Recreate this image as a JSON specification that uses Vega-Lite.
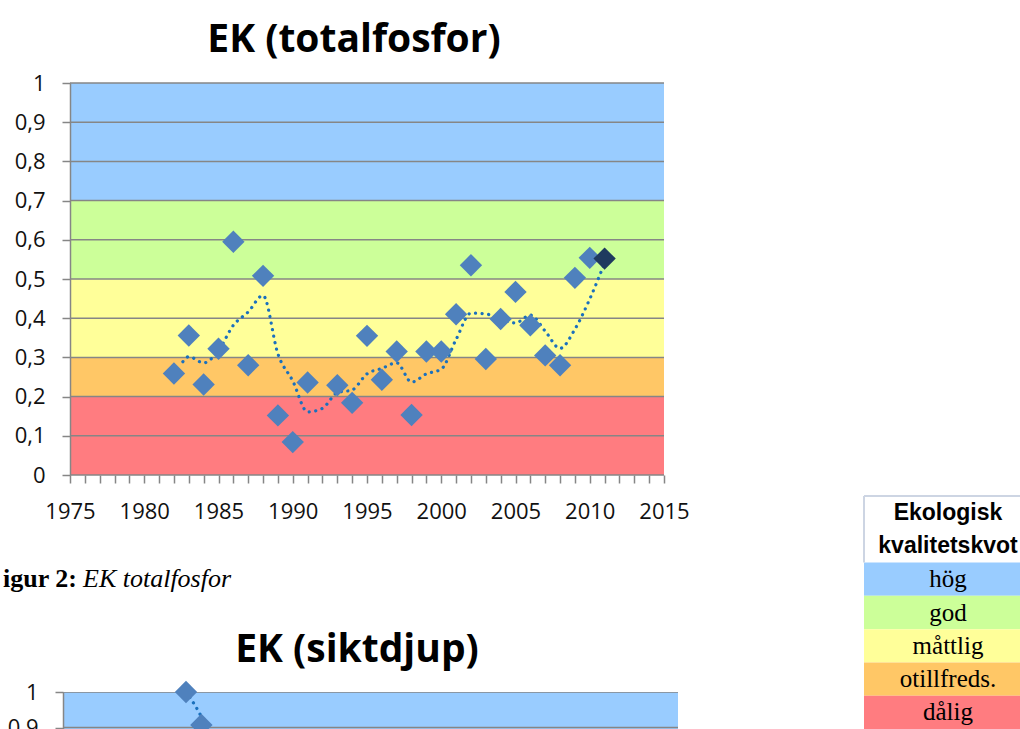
{
  "$schema": "https://vega.github.io/schema/vega-lite/v6.json",
  "background": "white",
  "padding": {"left": 0, "top": 21, "right": 0, "bottom": 0},
  "bounds": "flush",
  "spacing": 21,
  "datasets": {
    "bands": [
      {"lo": 0.7, "hi": 1.0, "klass": "hög"},
      {"lo": 0.5, "hi": 0.7, "klass": "god"},
      {"lo": 0.3, "hi": 0.5, "klass": "måttlig"},
      {"lo": 0.2, "hi": 0.3, "klass": "otillfreds."},
      {"lo": 0.0, "hi": 0.2, "klass": "dålig"}
    ],
    "grid": [{"v": 0}, {"v": 0.1}, {"v": 0.2}, {"v": 0.3}, {"v": 0.4}, {"v": 0.5}, {"v": 0.6}, {"v": 0.7}, {"v": 0.8}, {"v": 0.9}, {"v": 1}],
    "tp": [
      {"year": 1982, "ek": 0.259}, {"year": 1983, "ek": 0.356}, {"year": 1984, "ek": 0.231}, {"year": 1985, "ek": 0.322},
      {"year": 1986, "ek": 0.595}, {"year": 1987, "ek": 0.280}, {"year": 1988, "ek": 0.508}, {"year": 1989, "ek": 0.152},
      {"year": 1990, "ek": 0.084}, {"year": 1991, "ek": 0.236}, {"year": 1993, "ek": 0.229}, {"year": 1994, "ek": 0.184},
      {"year": 1995, "ek": 0.355}, {"year": 1996, "ek": 0.243}, {"year": 1997, "ek": 0.315}, {"year": 1998, "ek": 0.153},
      {"year": 1999, "ek": 0.315}, {"year": 2000, "ek": 0.315}, {"year": 2001, "ek": 0.410}, {"year": 2002, "ek": 0.535},
      {"year": 2003, "ek": 0.296}, {"year": 2004, "ek": 0.398}, {"year": 2005, "ek": 0.467}, {"year": 2006, "ek": 0.382},
      {"year": 2007, "ek": 0.305}, {"year": 2008, "ek": 0.280}, {"year": 2009, "ek": 0.503}, {"year": 2010, "ek": 0.554},
      {"year": 2011, "ek": 0.552}
    ],
    "tpTrend": [
      {"year": 1982.6, "ek": 0.289}, {"year": 1983, "ek": 0.302}, {"year": 1984, "ek": 0.286}, {"year": 1985, "ek": 0.318},
      {"year": 1986, "ek": 0.382}, {"year": 1987, "ek": 0.416}, {"year": 1988, "ek": 0.458}, {"year": 1989, "ek": 0.309},
      {"year": 1990, "ek": 0.240}, {"year": 1991, "ek": 0.161}, {"year": 1992, "ek": 0.170}, {"year": 1993, "ek": 0.210},
      {"year": 1994, "ek": 0.217}, {"year": 1995, "ek": 0.258}, {"year": 1996, "ek": 0.272}, {"year": 1997, "ek": 0.286},
      {"year": 1998, "ek": 0.237}, {"year": 1999, "ek": 0.258}, {"year": 2000, "ek": 0.270}, {"year": 2001, "ek": 0.346},
      {"year": 2002, "ek": 0.413}, {"year": 2003, "ek": 0.411}, {"year": 2004, "ek": 0.397}, {"year": 2005, "ek": 0.388},
      {"year": 2006, "ek": 0.408}, {"year": 2007, "ek": 0.367}, {"year": 2008, "ek": 0.323}, {"year": 2009, "ek": 0.372},
      {"year": 2010, "ek": 0.449}, {"year": 2011, "ek": 0.541}
    ],
    "sd": [{"year": 1983, "ek": 1.0}, {"year": 1984, "ek": 0.907}],
    "sdTrend": [{"year": 1983.25, "ek": 0.985}, {"year": 1984, "ek": 0.93}, {"year": 1984.6, "ek": 0.87}],
    "legend": [
      {"label": "Ekologisk", "klass": "header"},
      {"label": "kvalitetskvot", "klass": "header"},
      {"label": "hög", "klass": "hög"},
      {"label": "god", "klass": "god"},
      {"label": "måttlig", "klass": "måttlig"},
      {"label": "otillfreds.", "klass": "otillfreds."},
      {"label": "dålig", "klass": "dålig"}
    ],
    "caption": [{"bold": "igur 2:", "italic": "EK totalfosfor"}]
  },
  "vconcat": [
    {
      "width": 664,
      "height": 392,
      "title": {"text": "EK (totalfosfor)", "font": "Open Sans", "fontSize": 39, "fontWeight": "bold", "color": "#000000", "anchor": "middle", "offset": 12, "dx": 22},
      "layer": [
        {
          "data": {"name": "bands"},
          "mark": {"type": "rect"},
          "encoding": {
            "x": {"datum": 1975, "type": "quantitative",
              "scale": {"domain": [1970.286, 2015], "nice": false, "zero": false},
              "axis": {"values": [1975,1976,1977,1978,1979,1980,1981,1982,1983,1984,1985,1986,1987,1988,1989,1990,1991,1992,1993,1994,1995,1996,1997,1998,1999,2000,2001,2002,2003,2004,2005,2006,2007,2008,2009,2010,2011,2012,2013,2014,2015],
                "tickCount": 200,
                "format": "d", "labelExpr": "datum.value % 5 === 0 ? datum.label : ''",
                "grid": false, "domain": false, "tickSize": 8, "tickColor": "#868686", "tickWidth": 1.5,
                "labelFont": "Open Sans", "labelFontSize": 22, "labelColor": "#111111", "labelPadding": 18,
                "labelOverlap": false, "labelFlush": false, "labelBound": false, "title": null}},
            "x2": {"datum": 2015},
            "y": {"field": "lo", "type": "quantitative",
              "scale": {"domain": [0, 1], "nice": false, "zero": false},
              "axis": {"values": [0, 0.1, 0.2, 0.3, 0.4, 0.5, 0.6, 0.7, 0.8, 0.9, 1],
                "tickCount": 100,
                "labelExpr": "replace(format(datum.value, '.1~f'), '.', ',')",
                "offset": -70, "zindex": 1, "grid": false,
                "domainColor": "#868686", "domainWidth": 1.5, "tickColor": "#868686", "tickWidth": 1.5, "tickSize": 8,
                "labelFont": "Open Sans", "labelFontSize": 22, "labelColor": "#111111", "labelPadding": 17,
                "labelOverlap": false, "labelFlush": false, "title": null}},
            "y2": {"field": "hi"},
            "color": {"field": "klass", "type": "nominal", "legend": null,
              "scale": {"domain": ["hög", "god", "måttlig", "otillfreds.", "dålig", "header"], "range": ["#99CCFF", "#CCFF99", "#FFFF99", "#FFC766", "#FF7C80", "#FFFFFF"]}}
          }
        },
        {
          "data": {"name": "grid"},
          "mark": {"type": "rule", "color": "#868686", "strokeWidth": 1.5},
          "encoding": {
            "x": {"datum": 1975, "type": "quantitative"},
            "x2": {"datum": 2015},
            "y": {"field": "v", "type": "quantitative"}
          }
        },
        {
          "data": {"name": "tpTrend"},
          "mark": {"type": "line", "interpolate": "monotone", "color": "#1A70BD", "strokeWidth": 3.2, "strokeDash": [0.1, 6.5], "strokeCap": "round"},
          "encoding": {
            "x": {"field": "year", "type": "quantitative"},
            "y": {"field": "ek", "type": "quantitative"}
          }
        },
        {
          "data": {"name": "tp"},
          "mark": {"type": "point", "shape": "diamond", "filled": true, "size": 500, "opacity": 1},
          "encoding": {
            "x": {"field": "year", "type": "quantitative"},
            "y": {"field": "ek", "type": "quantitative"},
            "color": {"condition": {"test": "datum.year === 2011", "value": "#1F3A5F"}, "value": "#4F81BD"}
          }
        }
      ]
    },
    {
      "hconcat": [
        {
          "vconcat": [
            {
              "width": 166,
              "height": 182,
              "data": {"name": "caption"},
              "layer": [
                {"mark": {"type": "text", "align": "right", "baseline": "alphabetic", "font": "Liberation Serif", "fontSize": 26, "fontWeight": "bold", "color": "#000000", "dx": -6},
                 "encoding": {"text": {"field": "bold"}}},
                {"mark": {"type": "text", "align": "left", "baseline": "alphabetic", "font": "Liberation Serif", "fontSize": 26, "fontStyle": "italic", "color": "#000000"},
                 "encoding": {"text": {"field": "italic"}}}
              ]
            },
            {
              "width": 678,
              "height": 37,
              "title": {"text": "EK (siktdjup)", "font": "Open Sans", "fontSize": 39, "fontWeight": "bold", "color": "#000000", "anchor": "middle", "offset": 11, "dx": 18},
              "layer": [
                {
                  "data": {"name": "bands"},
                  "mark": {"type": "rect", "clip": true},
                  "encoding": {
                    "x": {"datum": 1975, "type": "quantitative", "scale": {"domain": [1970.902, 2015], "nice": false, "zero": false}, "axis": null},
                    "x2": {"datum": 2015},
                    "y": {"field": "lo", "type": "quantitative",
                      "scale": {"domain": [0.8958, 1], "nice": false, "zero": false},
                      "axis": {"values": [0.9, 1], "tickCount": 100,
                        "labelExpr": "replace(format(datum.value, '.1~f'), '.', ',')",
                        "offset": -63, "zindex": 1, "grid": false,
                        "domainColor": "#868686", "domainWidth": 1.5, "tickColor": "#868686", "tickWidth": 1.5, "tickSize": 8,
                        "labelFont": "Open Sans", "labelFontSize": 22, "labelColor": "#111111", "labelPadding": 17,
                        "labelOverlap": false, "labelFlush": false, "title": null}},
                    "y2": {"field": "hi"},
                    "color": {"field": "klass", "type": "nominal", "legend": null,
                      "scale": {"domain": ["hög", "god", "måttlig", "otillfreds.", "dålig", "header"], "range": ["#99CCFF", "#CCFF99", "#FFFF99", "#FFC766", "#FF7C80", "#FFFFFF"]}}
                  }
                },
                {
                  "data": {"name": "grid"},
                  "mark": {"type": "rule", "color": "#868686", "strokeWidth": 1.5, "clip": true},
                  "encoding": {
                    "x": {"datum": 1975, "type": "quantitative"},
                    "x2": {"datum": 2015},
                    "y": {"field": "v", "type": "quantitative"}
                  }
                },
                {
                  "data": {"name": "sdTrend"},
                  "mark": {"type": "line", "interpolate": "monotone", "color": "#1A70BD", "strokeWidth": 3.2, "strokeDash": [0.1, 6.5], "strokeCap": "round", "clip": true},
                  "encoding": {
                    "x": {"field": "year", "type": "quantitative"},
                    "y": {"field": "ek", "type": "quantitative"}
                  }
                },
                {
                  "data": {"name": "sd"},
                  "mark": {"type": "point", "shape": "diamond", "filled": true, "size": 500, "opacity": 1},
                  "encoding": {
                    "x": {"field": "year", "type": "quantitative"},
                    "y": {"field": "ek", "type": "quantitative"},
                    "color": {"value": "#4F81BD"}
                  }
                }
              ]
            }
          ],
          "spacing": 14,
          "bounds": "flush"
        },
        {
          "width": 168,
          "height": 233,
          "data": {"name": "legend"},
          "layer": [
            {
              "mark": {"type": "rect"},
              "encoding": {
                "y": {"field": "label", "type": "nominal", "axis": null,
                  "scale": {"domain": ["Ekologisk", "kvalitetskvot", "hög", "god", "måttlig", "otillfreds.", "dålig"], "paddingInner": 0, "paddingOuter": 0}},
                "color": {"field": "klass", "type": "nominal", "legend": null,
                  "scale": {"domain": ["hög", "god", "måttlig", "otillfreds.", "dålig", "header"], "range": ["#99CCFF", "#CCFF99", "#FFFF99", "#FFC766", "#FF7C80", "#FFFFFF"]}}
              }
            },
            {
              "transform": [{"filter": "datum.klass === 'header'"}],
              "mark": {"type": "text", "font": "Liberation Sans", "fontSize": 23, "fontWeight": "bold", "color": "#000000"},
              "encoding": {
                "y": {"field": "label", "type": "nominal"},
                "text": {"field": "label"}
              }
            },
            {
              "transform": [{"filter": "datum.klass !== 'header'"}],
              "mark": {"type": "text", "font": "Liberation Serif", "fontSize": 25, "color": "#000000"},
              "encoding": {
                "y": {"field": "label", "type": "nominal"},
                "text": {"field": "label"}
              }
            },
            {
              "data": {"values": [{"edge": "top"}]},
              "mark": {"type": "rule", "color": "#CDD5E3", "strokeWidth": 2},
              "encoding": {
                "y": {"datum": "Ekologisk", "type": "nominal", "bandPosition": 0}
              }
            },
            {
              "data": {"values": [{"edge": "left"}]},
              "mark": {"type": "rule", "color": "#CDD5E3", "strokeWidth": 2},
              "encoding": {
                "x": {"value": 0},
                "y": {"datum": "Ekologisk", "type": "nominal", "bandPosition": 0},
                "y2": {"datum": "kvalitetskvot", "bandPosition": 1}
              }
            }
          ]
        }
      ],
      "spacing": 864,
      "bounds": "flush"
    }
  ],
  "config": {
    "view": {"stroke": null}
  }
}
